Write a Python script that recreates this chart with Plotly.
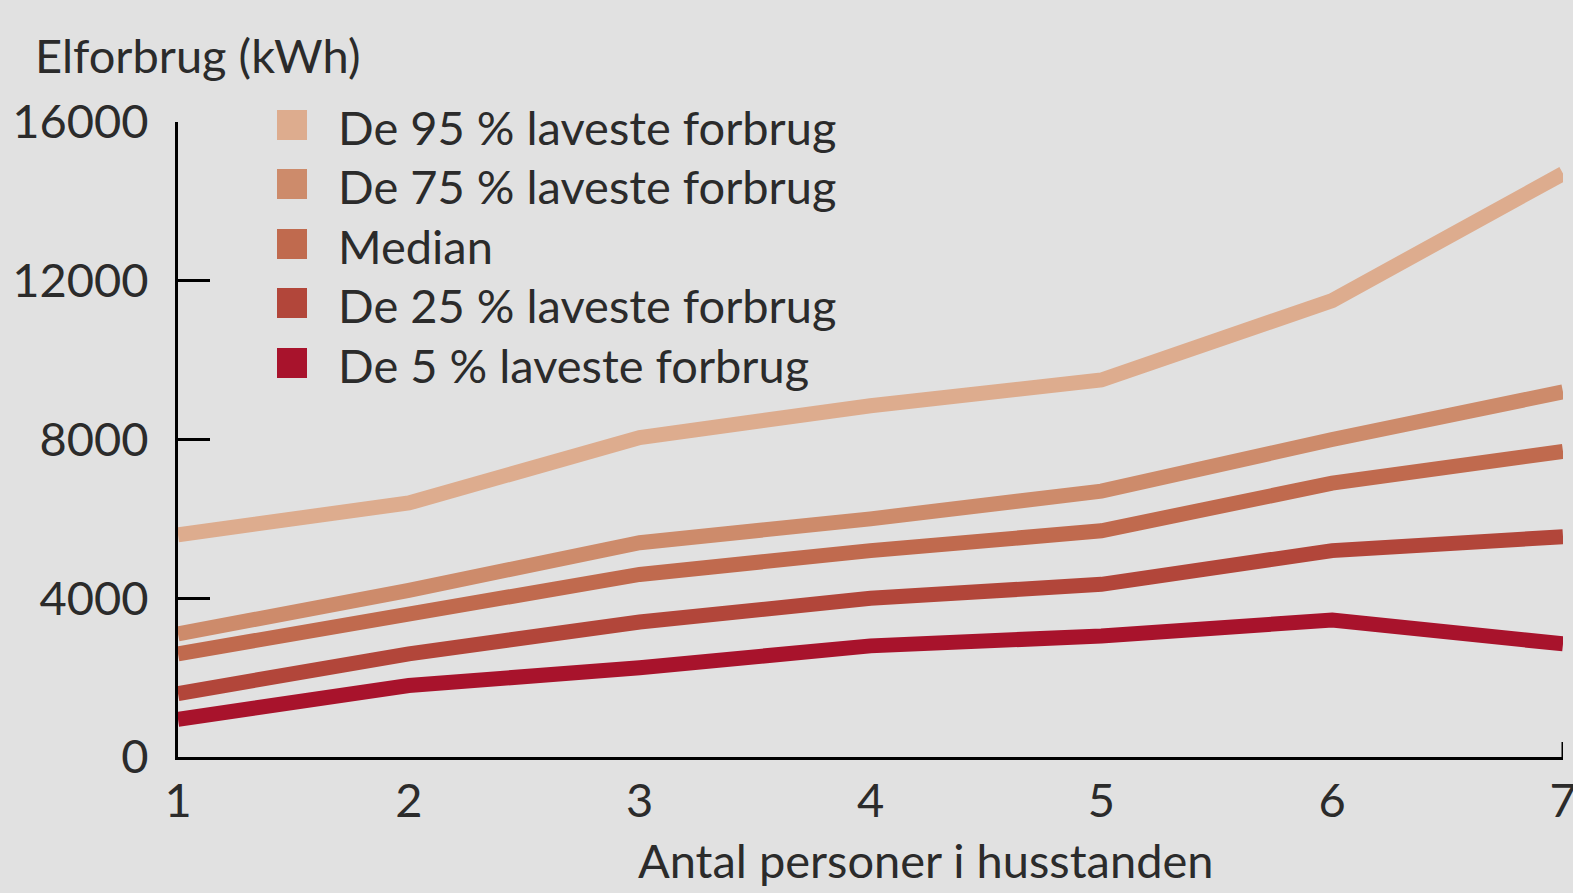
import plotly.graph_objects as go

persons = [1, 2, 3, 4, 5, 6, 7]
p95 = [5600, 6400, 8050, 8850, 9500, 11500, 14700]
p75 = [3100, 4200, 5400, 6000, 6700, 8000, 9200]
median = [2600, 3600, 4600, 5200, 5700, 6900, 7700]
p25 = [1600, 2600, 3400, 4000, 4350, 5200, 5550]
p5 = [950, 1800, 2250, 2800, 3050, 3450, 2850]

names = ["De 95 % laveste forbrug", "De 75 % laveste forbrug", "Median",
         "De 25 % laveste forbrug", "De 5 % laveste forbrug"]
series = [p95, p75, median, p25, p5]
colors = ["#DDAC8E", "#CD8B6B", "#C06A4E", "#B2463A", "#A8132C"]

y_ticks = [0, 4000, 8000, 12000, 16000]
y_ticktext = ["0", "4000", "8000", "12000", "16000"]
x_ticks = [1, 2, 3, 4, 5, 6, 7]

FONT = "Lato"
FS = 47
TXT = "#2b2b2b"
BG = "#E1E1E1"

W, H = 1573, 893
L, R, T, B = 178, 10, 122, 136
PW, PH = W - L - R, H - T - B


def px_x(p):
    return (p - L) / PW


def px_y(p):
    return (H - B - p) / PH


fig = go.Figure()
for name, vals, col in zip(names, series, colors):
    fig.add_trace(go.Scatter(x=persons, y=vals, mode="lines", name=name,
                             line=dict(color=col, width=15), showlegend=False,
                             cliponaxis=False))

# legend drawn as squares + text
legend_rows = [125, 184, 244, 303, 363]
for name, col, cy in zip(names, colors, legend_rows):
    fig.add_shape(type="rect", xref="paper", yref="paper",
                  xsizemode="pixel", ysizemode="pixel",
                  xanchor=px_x(292), yanchor=px_y(cy),
                  x0=-15, x1=15, y0=-15, y1=15,
                  fillcolor=col, line=dict(width=0))
    fig.add_annotation(text=name, xref="paper", yref="paper",
                       x=px_x(336), y=px_y(cy + 2), xanchor="left", yanchor="middle",
                       showarrow=False, font=dict(family=FONT, size=FS, color=TXT))

# small tick at x=7
fig.add_shape(type="line", xref="x", yref="y", x0=7, x1=7, y0=0, y1=380,
              line=dict(color="black", width=3))

fig.add_annotation(text="Elforbrug (kWh)", xref="paper", yref="paper",
                   x=px_x(33), y=px_y(55), xanchor="left", yanchor="middle",
                   showarrow=False, font=dict(family=FONT, size=FS, color=TXT))
fig.add_annotation(text="Antal personer i husstanden", xref="paper", yref="paper",
                   x=px_x(926), y=px_y(860), xanchor="center", yanchor="middle",
                   showarrow=False, font=dict(family=FONT, size=FS, color=TXT))

fig.update_layout(
    width=W, height=H,
    paper_bgcolor=BG, plot_bgcolor=BG,
    margin=dict(l=L, r=R, t=T, b=B),
    font=dict(family=FONT, size=FS, color=TXT),
    showlegend=False,
    xaxis=dict(range=[1, 7], tickvals=x_ticks, ticks="", showgrid=False,
               zeroline=False, showline=True, linecolor="black", linewidth=3,
               automargin=False, ticklabeloverflow="allow",
               ticklabelstandoff=1,
               tickfont=dict(family=FONT, size=FS, color=TXT)),
    yaxis=dict(range=[0, 16000], tickvals=y_ticks, ticktext=y_ticktext,
               ticks="inside", ticklen=32,
               tickwidth=3, tickcolor="black", showgrid=False, zeroline=False,
               showline=True, linecolor="black", linewidth=3,
               automargin=False, ticklabelstandoff=17,
               tickfont=dict(family=FONT, size=FS, color=TXT)),
)

fig.write_html("out.html",
               config={"displayModeBar": False},
               post_script="document.body.style.margin='0';document.body.style.overflow='hidden';")
